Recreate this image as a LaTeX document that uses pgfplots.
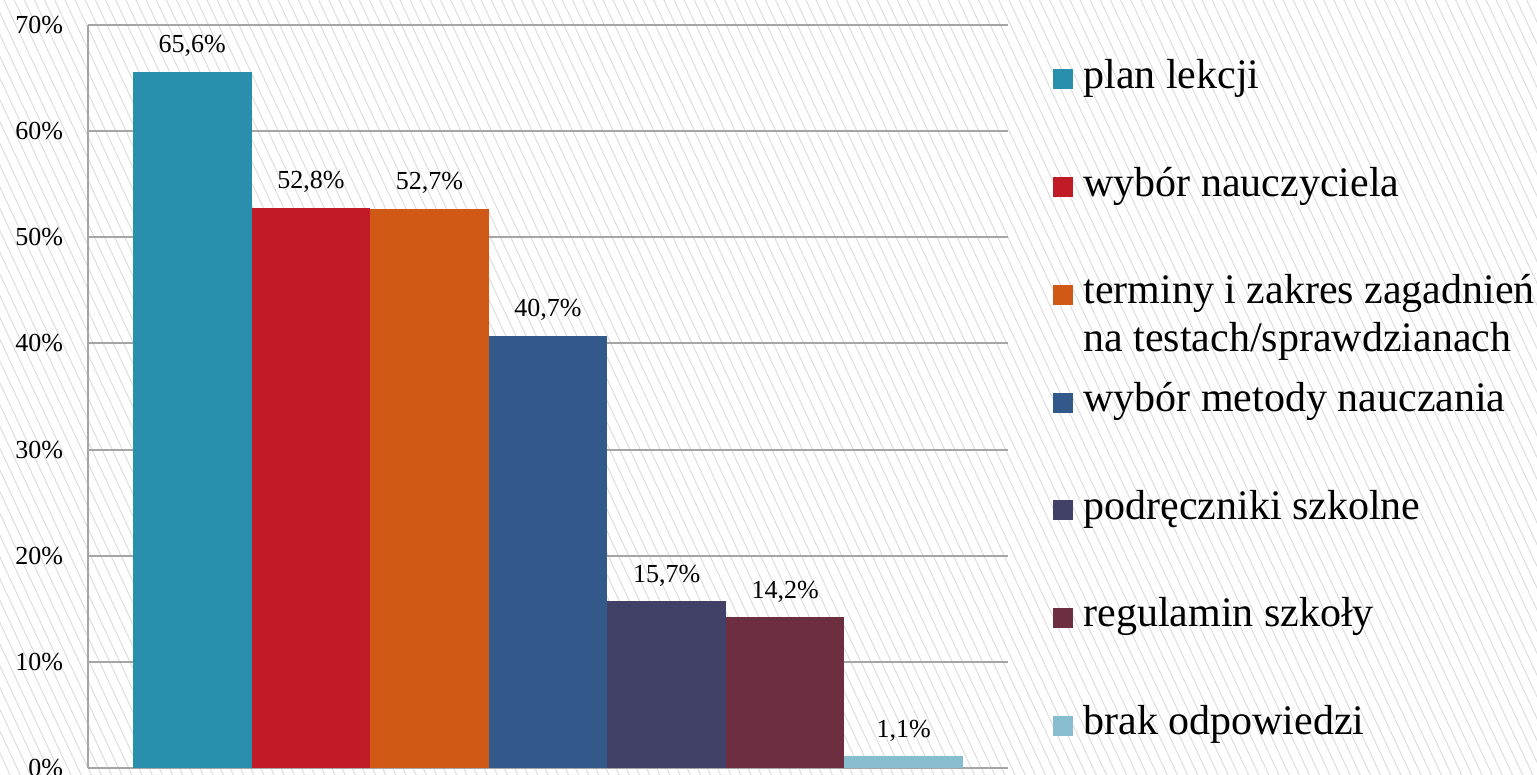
\documentclass[border=0pt]{standalone}
\usepackage{fontspec}
\setmainfont{Liberation Serif}
\usepackage{pgfplots}
\pgfplotsset{compat=1.18}
\usetikzlibrary{patterns.meta}
\definecolor{gridgray}{RGB}{165,165,165}
\definecolor{c1}{RGB}{42,143,173}
\definecolor{c2}{RGB}{192,27,38}
\definecolor{c3}{RGB}{208,89,24}
\definecolor{c4}{RGB}{51,89,138}
\definecolor{c5}{RGB}{65,64,102}
\definecolor{c6}{RGB}{109,47,63}
\definecolor{c7}{RGB}{135,189,207}
\begin{document}
\begin{tikzpicture}
\useasboundingbox (0,0) rectangle (768.5pt,387.5pt);
\fill[white] (0,0) rectangle (768.5pt,387.5pt);
\fill[pattern={Lines[angle=-65,distance=4.6pt,line width=0.5pt]}, pattern color=black!13] (0,0) rectangle (768.5pt,387.5pt);
\begin{axis}[
  at={(44pt,3.5pt)}, anchor=south west,
  scale only axis, width=460pt, height=371.5pt,
  xmin=-0.879, xmax=6.879, ymin=0, ymax=70,
  xtick=\empty, ytick={0,10,...,70},
  yticklabel={\pgfmathprintnumber{\tick}\%},
  /pgf/number format/assume math mode=true,
  yticklabel style={font=\fontsize{13}{15}\selectfont, xshift=-9pt},
  major tick length=0pt,
  axis x line*=bottom, axis y line*=left,
  axis line style={draw=gridgray, line width=1pt, -},
  ymajorgrids, grid style={draw=gridgray, line width=1pt},
  nodes near coords={\pgfmathprintnumber[fixed, fixed zerofill, precision=1, use comma]{\pgfplotspointmeta}\%},
  every node near coord/.append style={font=\fontsize{13}{15}\selectfont, anchor=base, inner sep=0pt, yshift=9.5pt, text=black},
  legend image code/.code={\fill[#1, draw=none] (0pt,-8pt) rectangle (10pt,2pt);},
  legend cell align=left,
  legend style={at={(1.0489,0.9555)}, anchor=north west, draw=none, fill=none, inner sep=0pt,
    row sep=38.35pt, column sep=5pt,
    font=\fontsize{21}{24}\selectfont,
    nodes={inner sep=0pt, text height=15pt, text depth=0pt}},
]
\addplot[ybar, bar width=1, fill=c1, draw=none] coordinates {(0,65.6)};
\addlegendentry{plan lekcji}
\addplot[ybar, bar width=1, fill=c2, draw=none] coordinates {(1,52.8)};
\addlegendentry{wybór nauczyciela}
\addplot[ybar, bar width=1, fill=c3, draw=none] coordinates {(2,52.7)};
\addlegendentry{\smash{\begin{tabular}[t]{@{}l@{}}terminy i zakres zagadnień\\na testach/sprawdzianach\end{tabular}}}
\addplot[ybar, bar width=1, fill=c4, draw=none] coordinates {(3,40.7)};
\addlegendentry{wybór metody nauczania}
\addplot[ybar, bar width=1, fill=c5, draw=none] coordinates {(4,15.7)};
\addlegendentry{podręczniki szkolne}
\addplot[ybar, bar width=1, fill=c6, draw=none] coordinates {(5,14.2)};
\addlegendentry{regulamin szkoły}
\addplot[ybar, bar width=1, fill=c7, draw=none] coordinates {(6,1.1)};
\addlegendentry{brak odpowiedzi}
\end{axis}
\end{tikzpicture}
\end{document}
